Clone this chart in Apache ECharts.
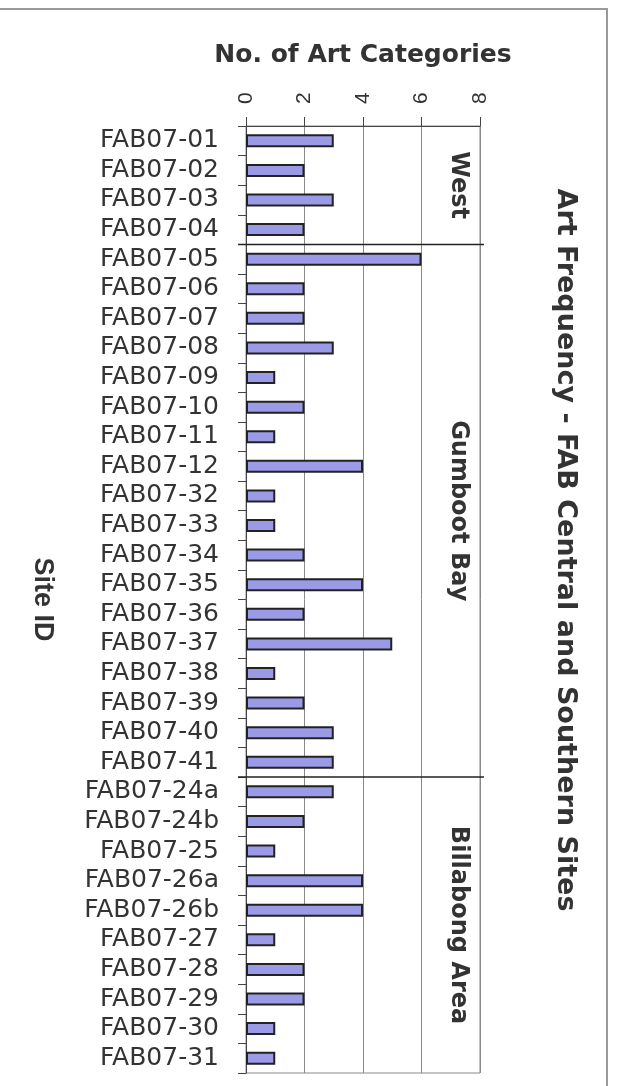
<!DOCTYPE html>
<html>
<head>
<meta charset="utf-8">
<script src="https://cdn.jsdelivr.net/npm/echarts@6/dist/echarts.min.js"></script>
<style>
  html, body { margin: 0; padding: 0; background: #ffffff; }
  #chart { width: 617px; height: 1086px; }
</style>
</head>
<body>
<div id="chart"></div>
<script>
// Site identifiers, top to bottom
const sites = [
  'FAB07-01', 'FAB07-02', 'FAB07-03', 'FAB07-04',
  'FAB07-05', 'FAB07-06', 'FAB07-07', 'FAB07-08', 'FAB07-09', 'FAB07-10',
  'FAB07-11', 'FAB07-12', 'FAB07-32', 'FAB07-33', 'FAB07-34', 'FAB07-35',
  'FAB07-36', 'FAB07-37', 'FAB07-38', 'FAB07-39', 'FAB07-40', 'FAB07-41',
  'FAB07-24a', 'FAB07-24b', 'FAB07-25', 'FAB07-26a', 'FAB07-26b',
  'FAB07-27', 'FAB07-28', 'FAB07-29', 'FAB07-30', 'FAB07-31'
];
// Number of art categories recorded at each site
const artCounts = [
  3, 2, 3, 2,
  6, 2, 2, 3, 1, 2, 1, 4, 1, 1, 2, 4, 2, 5, 1, 2, 3, 3,
  3, 2, 1, 4, 4, 1, 2, 2, 1, 1
];
// Site groups and how many consecutive sites each covers
const regionNames = ['West', 'Gumboot Bay', 'Billabong Area'];
const regionSizes = [4, 18, 10];
// Value axis range
const axisMin = 0;
const axisMax = 8;
const axisStep = 2;

const chartTitle = 'Art Frequency - FAB Central and Southern Sites';
const valueAxisTitle = 'No. of Art Categories';
const siteAxisTitle = 'Site ID';

const textColor = '#333333';
const chart = echarts.init(document.getElementById('chart'));

chart.setOption({
  backgroundColor: '#ffffff',
  animation: false,
  grid: {
    left: 246, top: 126, right: 137, bottom: 13,
    show: true, borderColor: '#8a8a8a', borderWidth: 1
  },
  xAxis: {
    type: 'value',
    position: 'top',
    min: axisMin, max: axisMax, interval: axisStep,
    name: valueAxisTitle,
    nameLocation: 'middle',
    nameGap: 58,
    nameTextStyle: {
      fontFamily: 'DejaVu Sans', fontWeight: 'bold', fontSize: 25, color: textColor
    },
    axisLine: { show: true, lineStyle: { color: '#444444', width: 1 } },
    axisTick: { show: true, length: 9, lineStyle: { color: '#444444' } },
    axisLabel: {
      rotate: -90, margin: 22,
      fontFamily: 'Liberation Sans', fontSize: 21, color: textColor
    },
    splitLine: { show: true, lineStyle: { color: '#8a8a8a', width: 1 } }
  },
  yAxis: {
    type: 'category',
    data: sites,
    inverse: true,
    axisLine: { show: true, lineStyle: { color: '#444444', width: 1 } },
    axisTick: { show: true, length: 8, lineStyle: { color: '#444444' } },
    axisLabel: {
      margin: 27, interval: 0,
      fontFamily: 'DejaVu Sans', fontSize: 25, color: textColor
    },
    splitLine: { show: false }
  },
  series: [{
    type: 'bar',
    data: artCounts,
    barWidth: 13,
    itemStyle: { color: '#9a9ae6', borderColor: '#222222', borderWidth: 2 }
  }]
});

// Region separators, region labels, axis title and chart title
const graphics = [];
const catY = i => chart.convertToPixel({ yAxisIndex: 0 }, sites[i]);
const xLeft = chart.convertToPixel({ xAxisIndex: 0 }, axisMin);
const xRight = chart.convertToPixel({ xAxisIndex: 0 }, axisMax);
const band = catY(1) - catY(0);

let start = 0;
regionNames.forEach((name, r) => {
  const end = start + regionSizes[r] - 1;
  const yTop = catY(start) - band / 2;
  const yBottom = catY(end) + band / 2;
  if (r > 0) {
    graphics.push({
      type: 'line',
      shape: { x1: xLeft - 8, y1: yTop, x2: xRight + 4, y2: yTop },
      style: { stroke: '#222222', lineWidth: 1.5 },
      z: 10
    });
  }
  graphics.push({
    type: 'text',
    x: xRight - 22,
    y: (yTop + yBottom) / 2,
    rotation: -Math.PI / 2,
    style: {
      text: name,
      fontFamily: 'DejaVu Sans', fontWeight: 'bold', fontSize: 24,
      fill: textColor, align: 'center', verticalAlign: 'middle'
    },
    z: 10
  });
  start = end + 1;
});

const yMid = (catY(0) + catY(sites.length - 1)) / 2;
graphics.push({
  type: 'text',
  x: 42, y: yMid,
  rotation: -Math.PI / 2,
  style: {
    text: siteAxisTitle,
    fontFamily: 'Liberation Sans', fontWeight: 'bold', fontSize: 27,
    fill: textColor, align: 'center', verticalAlign: 'middle'
  }
});
graphics.push({
  type: 'text',
  x: 565, y: 550,
  rotation: -Math.PI / 2,
  style: {
    text: chartTitle,
    fontFamily: 'DejaVu Sans', fontWeight: 'bold', fontSize: 27,
    fill: textColor, align: 'center', verticalAlign: 'middle'
  }
});
// Outer frame of the chart area
graphics.push({
  type: 'polyline',
  shape: { points: [[0, 9], [607, 9], [607, 1090]] },
  style: { stroke: '#9a9a9a', lineWidth: 2, fill: null }
});

chart.setOption({ graphic: graphics });
</script>
</body>
</html>
